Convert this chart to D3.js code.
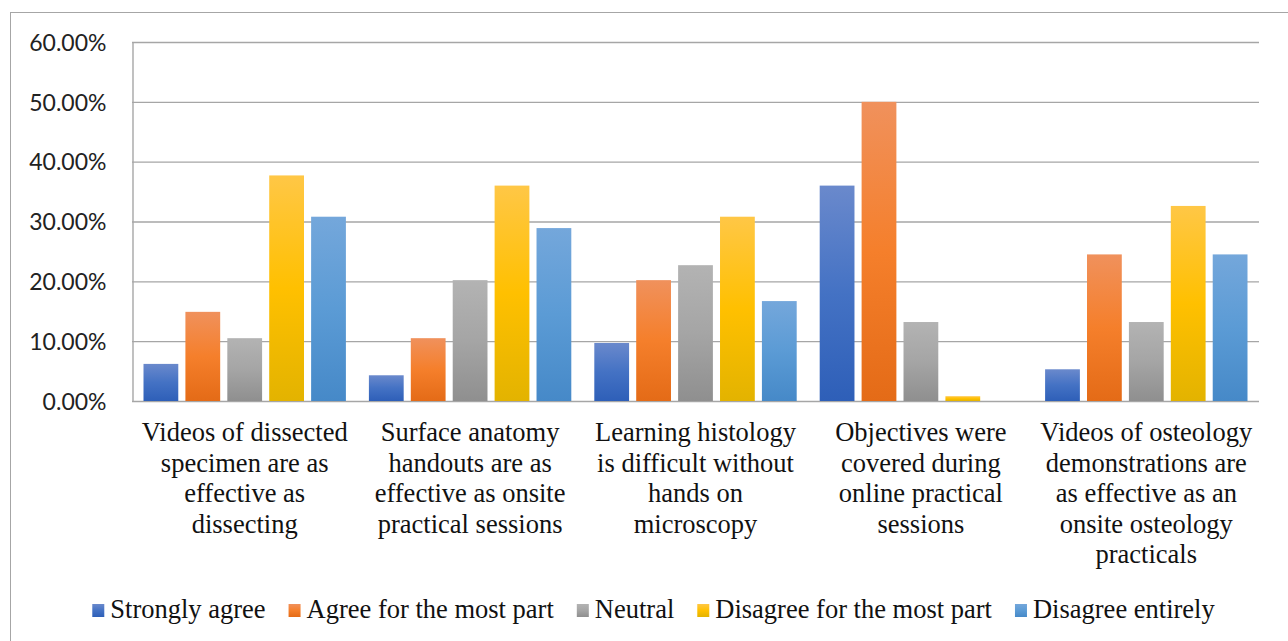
<!DOCTYPE html>
<head>
  <script src="https://cdn.jsdelivr.net/npm/d3@7"></script>
  <title>Online practical sessions survey</title>
  <style>
    html, body { margin: 0; background: #fff; }
    svg { display: block; }
  </style>
</head>
<body>
<div id="chart"></div>
<script>
  // categories (one label line per entry)
  const categories = [
    ["Videos of dissected", "specimen are as", "effective as", "dissecting"],
    ["Surface anatomy", "handouts are as", "effective as onsite", "practical sessions"],
    ["Learning histology", "is difficult without", "hands on", "microscopy"],
    ["Objectives were", "covered during", "online practical", "sessions"],
    ["Videos of osteology", "demonstrations are", "as effective as an", "onsite osteology", "practicals"]
  ];
  const seriesNames = ["Strongly agree", "Agree for the most part", "Neutral", "Disagree for the most part", "Disagree entirely"];
  // percent values per series, one per category
  const stronglyAgree    = [6.2, 4.3, 9.7, 36.0, 5.3];
  const agreeMostPart    = [14.9, 10.5, 20.2, 50.0, 24.5];
  const neutral          = [10.5, 20.2, 22.7, 13.2, 13.2];
  const disagreeMostPart = [37.7, 36.0, 30.8, 0.8, 32.6];
  const disagreeEntirely = [30.8, 28.9, 16.7, 0, 24.5];
  const yTicks = [0, 10, 20, 30, 40, 50, 60];

  const seriesValues = [stronglyAgree, agreeMostPart, neutral, disagreeMostPart, disagreeEntirely];
  // gradient stops: top, middle, bottom
  const colors = [
    ["#6a89cc", "#4472c4", "#2e5fb8"],
    ["#f0915c", "#f57f2b", "#e46b17"],
    ["#b3b3b3", "#a5a5a5", "#8f8f8f"],
    ["#ffc746", "#ffc000", "#e3b300"],
    ["#74a7db", "#5b9bd5", "#4689c8"]
  ];

  const serif = "'Liberation Serif', 'Times New Roman', serif";
  const sans = "Lato, 'Open Sans', sans-serif";

  const width = 1288, height = 641;
  const plot = {left: 132, right: 1259, top: 42, bottom: 401};

  const svg = d3.select("#chart").append("svg")
      .attr("width", width).attr("height", height);

  const defs = svg.append("defs");
  colors.forEach((c, i) => {
    const g = defs.append("linearGradient").attr("id", "grad" + i)
        .attr("x1", 0).attr("y1", 0).attr("x2", 0).attr("y2", 1);
    g.append("stop").attr("offset", "0%").attr("stop-color", c[0]);
    g.append("stop").attr("offset", "50%").attr("stop-color", c[1]);
    g.append("stop").attr("offset", "100%").attr("stop-color", c[2]);
  });

  // chart border
  svg.append("rect")
      .attr("x", 10.5).attr("y", 12.5).attr("width", 1400).attr("height", 800)
      .attr("fill", "none").attr("stroke", "#a6a6a6").attr("stroke-width", 1);

  const x0 = d3.scaleBand().domain(d3.range(categories.length)).range([plot.left, plot.right]).padding(0);
  const gw = x0.bandwidth();
  const x1 = d3.scaleBand().domain(d3.range(seriesNames.length)).range([11.5, gw - 11.5]).paddingInner(0.17);
  const y = d3.scaleLinear().domain([0, 60]).range([plot.bottom, plot.top]);

  // gridlines
  svg.append("g").selectAll("line").data(yTicks).join("line")
      .attr("x1", plot.left).attr("x2", plot.right)
      .attr("y1", d => y(d) + 0.5).attr("y2", d => y(d) + 0.5)
      .attr("stroke", "#a6a6a6").attr("stroke-width", 1.4);

  // y axis
  const yAxis = svg.append("g")
      .attr("transform", `translate(${plot.left + 0.5},0)`)
      .call(d3.axisLeft(y).tickValues(yTicks).tickSize(0).tickPadding(26)
        .tickFormat(d => d.toFixed(2) + "%"));
  yAxis.attr("font-family", sans).attr("font-size", 23);
  yAxis.select(".domain").attr("stroke", "#a6a6a6").attr("stroke-width", 1.4);
  yAxis.selectAll("text").attr("dy", "0.36em").attr("fill", "#222");

  // bars
  const groups = svg.append("g").selectAll("g").data(categories).join("g")
      .attr("transform", (d, i) => `translate(${x0(i)},0)`);
  groups.selectAll("rect")
      .data((d, ci) => seriesValues.map((vals, si) => ({si, v: vals[ci]})).filter(b => b.v > 0))
      .join("rect")
      .attr("x", b => x1(b.si))
      .attr("width", x1.bandwidth())
      .attr("y", b => y(b.v))
      .attr("height", b => plot.bottom - y(b.v))
      .attr("fill", b => `url(#grad${b.si})`);

  // category labels
  groups.append("text")
      .style("font-family", serif).style("font-size", "26.5px").attr("fill", "#111")
      .attr("text-anchor", "middle")
    .selectAll("tspan").data(d => d).join("tspan")
      .attr("x", gw / 2)
      .attr("y", (d, i) => 441 + i * 30.6)
      .text(d => d);

  // legend
  const legend = svg.append("g");
  const items = legend.selectAll("g").data(seriesNames).join("g");
  items.append("rect").attr("width", 12).attr("height", 13).attr("y", 604)
      .attr("fill", (d, i) => `url(#grad${i})`);
  items.append("text")
      .style("font-family", serif).style("font-size", "26.5px").attr("fill", "#111")
      .attr("x", 18).attr("y", 618).text(d => d);
  let cx = 0;
  const offs = [];
  items.each(function() {
    const w = 18 + this.querySelector("text").getComputedTextLength();
    offs.push(cx);
    cx += w + 23;
  });
  const total = cx - 23;
  const startX = 653.5 - total / 2;
  items.attr("transform", (d, i) => `translate(${startX + offs[i]},0)`);
</script>
</body>
